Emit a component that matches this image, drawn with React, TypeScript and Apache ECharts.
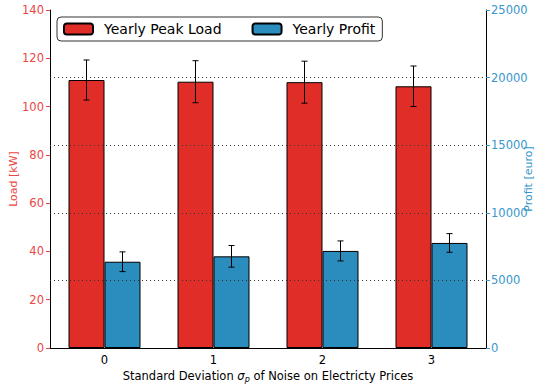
import React, { useEffect, useRef } from "react";
import * as echarts from "echarts";

const categories = ["0", "1", "2", "3"];
const peakLoad = [111.0, 110.3, 110.1, 108.4];
const peakLoadErr = [8.3, 8.7, 8.7, 8.4];
const profit = [6380, 6780, 7180, 7770];
const profitErr = [730, 800, 740, 690];
const profitGridLines = [5000, 10000, 15000, 20000];

const RED = "#e02d28";
const BLUE = "#2b8cbe";
const RED_TXT = "#ea4643";
const BLUE_TXT = "#3796cb";
const FONT = "DejaVu Sans";

function errorRenderer(offset: number) {
  return (params: any, api: any) => {
    const i = api.value(0);
    const lo = api.coord([i, api.value(1)]);
    const hi = api.coord([i, api.value(2)]);
    const cx = lo[0] + offset;
    const style = { stroke: "#000", lineWidth: 1 };
    return {
      type: "group",
      children: [
        { type: "line", shape: { x1: cx, y1: lo[1], x2: cx, y2: hi[1] }, style },
        { type: "line", shape: { x1: cx - 3, y1: lo[1], x2: cx + 3, y2: lo[1] }, style },
        { type: "line", shape: { x1: cx - 3, y1: hi[1], x2: cx + 3, y2: hi[1] }, style },
      ],
    };
  };
}

export default function App() {
  const ref = useRef<HTMLDivElement>(null);
  useEffect(() => {
    document.body.style.margin = "0";
    const chart = echarts.init(ref.current!, null, { renderer: "svg" });
    const loadErrData = peakLoad.map((v, i) => [i, v - peakLoadErr[i], v + peakLoadErr[i]]);
    const profitErrData = profit.map((v, i) => [i, v - profitErr[i], v + profitErr[i]]);
    chart.setOption({
      animation: false,
      textStyle: { fontFamily: FONT },
      grid: { left: 50, right: 56, top: 10, bottom: 39, containLabel: false, outerBoundsMode: "none" },
      legend: {
        data: ["Yearly Peak Load", "Yearly Profit"],
        left: 57,
        top: 17,
        itemWidth: 29,
        itemHeight: 11,
        itemGap: 30,
        borderColor: "#333",
        borderWidth: 1,
        borderRadius: 4,
        padding: [5, 7, 5, 6],
        backgroundColor: "#fff",
        textStyle: { fontSize: 14, color: "#000", fontFamily: FONT, padding: [0, 0, 0, 6] },
      },
      xAxis: [
        {
          type: "category",
          data: categories,
          position: "bottom",
          axisLine: { lineStyle: { color: "#000", width: 1 } },
          axisTick: { inside: true, alignWithLabel: true, length: 4, lineStyle: { color: "#000" } },
          axisLabel: { color: "#000", fontSize: 11.5, margin: 6, fontFamily: FONT },
          name: "Standard Deviation {s|σ}{sub|p} of Noise on Electricty Prices",
          nameLocation: "middle",
          nameGap: 21,
          nameMoveOverlap: false,
          nameTextStyle: {
            color: "#000",
            fontSize: 11.5,
            fontFamily: FONT,
            rich: {
              s: { fontStyle: "italic", fontSize: 11.5, fontFamily: FONT, color: "#000" },
              sub: { fontStyle: "italic", fontSize: 8, fontFamily: FONT, color: "#000", padding: [6, 0, 0, 0] },
            },
          },
        },
        {
          type: "category",
          data: categories,
          position: "top",
          axisLine: { lineStyle: { color: "#000", width: 1 } },
          axisTick: { inside: true, alignWithLabel: true, length: 4, lineStyle: { color: "#000" } },
          axisLabel: { show: false },
        },
      ],
      yAxis: [
        {
          type: "value",
          min: 0,
          max: 140,
          interval: 20,
          position: "left",
          axisLine: { show: true, lineStyle: { color: "#000", width: 1 } },
          axisTick: { show: true, length: 4, lineStyle: { color: RED_TXT } },
          axisLabel: { color: RED_TXT, fontSize: 11.5, margin: 6, fontFamily: FONT },
          splitLine: { show: false },
          name: "Load [kW]",
          nameLocation: "middle",
          nameGap: 31,
          nameMoveOverlap: false,
          nameTextStyle: { color: RED_TXT, fontSize: 11, fontFamily: FONT },
        },
        {
          type: "value",
          min: 0,
          max: 25000,
          interval: 5000,
          position: "right",
          axisLine: { show: true, lineStyle: { color: "#000", width: 1 } },
          axisTick: { show: true, length: 4, lineStyle: { color: BLUE_TXT } },
          axisLabel: {
            color: BLUE_TXT,
            fontSize: 11.5,
            margin: 5,
            fontFamily: FONT,
            formatter: (v: number) => String(v),
          },
          splitLine: { show: false },
          name: "Profit [euro]",
          nameLocation: "middle",
          nameGap: 37,
          nameMoveOverlap: false,
          nameTextStyle: { color: BLUE_TXT, fontSize: 11, fontFamily: FONT },
        },
      ],
      series: [
        {
          name: "Yearly Peak Load",
          type: "bar",
          xAxisIndex: 0,
          yAxisIndex: 0,
          data: peakLoad,
          barWidth: 36,
          barGap: "0%",
          itemStyle: { color: RED, borderColor: "#000", borderWidth: 1 },
        },
        {
          name: "Yearly Profit",
          type: "bar",
          xAxisIndex: 0,
          yAxisIndex: 1,
          data: profit,
          barWidth: 36,
          barGap: "0%",
          itemStyle: { color: BLUE, borderColor: "#000", borderWidth: 1 },
        },
        {
          type: "custom",
          xAxisIndex: 0,
          yAxisIndex: 0,
          renderItem: errorRenderer(-18),
          data: loadErrData,
          encode: { x: 0, y: [1, 2] },
          z: 5,
          silent: true,
        },
        {
          type: "custom",
          xAxisIndex: 0,
          yAxisIndex: 1,
          renderItem: errorRenderer(18),
          data: profitErrData,
          encode: { x: 0, y: [1, 2] },
          z: 5,
          silent: true,
          markLine: {
            silent: true,
            symbol: "none",
            label: { show: false },
            lineStyle: { color: "#333", type: [1, 3], width: 1 },
            data: profitGridLines.map((v) => ({ yAxis: v })),
          },
        },
      ],
    });
    return () => chart.dispose();
  }, []);
  return <div ref={ref} style={{ width: 542, height: 387 }} />;
}
